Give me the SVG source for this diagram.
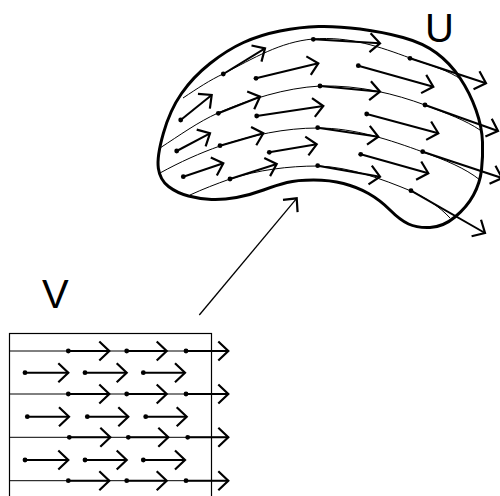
<svg xmlns="http://www.w3.org/2000/svg" width="500" height="496" viewBox="0 0 500 496">
<defs>
<marker id="ah" markerUnits="userSpaceOnUse" orient="auto" refX="0" refY="0" markerWidth="20" markerHeight="24" style="overflow:visible">
<path d="M-10,-9.5 L0,0 L-10,9.5" fill="none" stroke="#000" stroke-width="2.2" stroke-linejoin="miter"/>
</marker>
</defs>
<style>
.thin{fill:none;stroke:#000;stroke-width:1}
.vec{fill:none;stroke:#000;stroke-width:2;marker-end:url(#ah)}
.dot{fill:#000}
.outline{fill:none;stroke:#000;stroke-width:3}
.lbl{font-family:"Liberation Sans",Arial,sans-serif;font-size:40px;fill:#000}
</style>
<rect width="500" height="496" fill="#fff"/>

<g id="U">
<path class="outline" d="M163.35,133.35 Q170,110 181.5,93.5 Q193,77 210,63.5 Q227,50 243.5,42.5 Q260,35 280,31 Q300,27 318.5,26.5 Q337,26 360,29 Q383,32 403,37.5 Q423,43 436.5,53 Q450,63 460,78 Q470,93 476,110 Q482,127 482.5,142 Q483,157 481.5,170 Q480,183 473.5,195 Q467,207 455,217 Q443,227 430,227.5 Q417,228 408.5,224 Q400,220 390,210 Q380,200 368.5,193.5 Q357,187 343.5,183.5 Q330,180 313.5,180 Q297,180 287,182.5 Q277,185 263.5,190 Q250,195 236.5,197.5 Q223,200 211.5,199.5 Q200,199 188.5,196 Q177,193 168.5,186.5 Q160,180 158.35,168.35 Q156.7,156.7 163.35,133.35 Z"/>
<path class="thin" d="M183,98 C198,88 210,80 223,74 C254,58 280,42 313,39 C350,36 380,47 410,58 C432,66 448,70 462,80"/>
<path class="thin" d="M160,148 C180,135 198,122 218,113 C250,99 285,88 320,86 C360,85 395,94 425,105 C448,114 465,120 480,130"/>
<path class="thin" d="M160,173 C180,162 200,153 220,146 C252,135 285,128 318,128 C355,128 390,140 423,152 C445,160 465,168 480,180"/>
<path class="thin" d="M190,195 C203,189 216,184 230,179 C258,170 288,166 318,166 C350,167 382,179 411,191 C426,198 440,207 450,218"/>
<g>
<line class="vec" x1="223.3" y1="74" x2="265" y2="48.3"/>
<line class="vec" x1="313.3" y1="39.3" x2="380" y2="43.3"/>
<line class="vec" x1="410" y1="58.3" x2="486" y2="83.3"/>
<line class="vec" x1="218.3" y1="113.3" x2="260" y2="96.7"/>
<line class="vec" x1="320" y1="86" x2="380" y2="91.7"/>
<line class="vec" x1="425" y1="105" x2="498" y2="131"/>
<line class="vec" x1="220" y1="145.7" x2="263.3" y2="133.3"/>
<line class="vec" x1="317.7" y1="127.7" x2="378.3" y2="136.7"/>
<line class="vec" x1="422.7" y1="151.7" x2="502" y2="178"/>
<line class="vec" x1="230" y1="179" x2="276.7" y2="164"/>
<line class="vec" x1="317.7" y1="165.7" x2="380" y2="176.7"/>
<line class="vec" x1="411" y1="190.7" x2="485" y2="233"/>
<line class="vec" x1="180.7" y1="120" x2="211.7" y2="95"/>
<line class="vec" x1="256" y1="78.3" x2="318.3" y2="63.3"/>
<line class="vec" x1="358.3" y1="65.7" x2="433.3" y2="86.7"/>
<line class="vec" x1="176.7" y1="151" x2="210" y2="133.3"/>
<line class="vec" x1="256.7" y1="116" x2="323.3" y2="106"/>
<line class="vec" x1="366.7" y1="114" x2="438.3" y2="133.3"/>
<line class="vec" x1="183.3" y1="176.7" x2="223.3" y2="163.3"/>
<line class="vec" x1="269.3" y1="152.3" x2="316.7" y2="144.3"/>
<line class="vec" x1="360.7" y1="154.3" x2="428.3" y2="173.3"/>
</g>
<g>
<circle class="dot" cx="223.3" cy="74" r="2.4"/>
<circle class="dot" cx="313.3" cy="39.3" r="2.4"/>
<circle class="dot" cx="410" cy="58.3" r="2.4"/>
<circle class="dot" cx="218.3" cy="113.3" r="2.4"/>
<circle class="dot" cx="320" cy="86" r="2.4"/>
<circle class="dot" cx="425" cy="105" r="2.4"/>
<circle class="dot" cx="220" cy="145.7" r="2.4"/>
<circle class="dot" cx="317.7" cy="127.7" r="2.4"/>
<circle class="dot" cx="422.7" cy="151.7" r="2.4"/>
<circle class="dot" cx="230" cy="179" r="2.4"/>
<circle class="dot" cx="317.7" cy="165.7" r="2.4"/>
<circle class="dot" cx="411" cy="190.7" r="2.4"/>
<circle class="dot" cx="180.7" cy="120" r="2.4"/>
<circle class="dot" cx="256" cy="78.3" r="2.4"/>
<circle class="dot" cx="358.3" cy="65.7" r="2.4"/>
<circle class="dot" cx="176.7" cy="151" r="2.4"/>
<circle class="dot" cx="256.7" cy="116" r="2.4"/>
<circle class="dot" cx="366.7" cy="114" r="2.4"/>
<circle class="dot" cx="183.3" cy="176.7" r="2.4"/>
<circle class="dot" cx="269.3" cy="152.3" r="2.4"/>
<circle class="dot" cx="360.7" cy="154.3" r="2.4"/>
</g>
<text class="lbl" x="425" y="41.5">U</text>
</g>

<g id="V">
<rect x="9.5" y="333.5" width="202" height="200" fill="none" stroke="#000" stroke-width="1.2"/>
<line class="thin" x1="9.5" y1="351" x2="226" y2="351"/>
<line class="thin" x1="9.5" y1="394" x2="226" y2="394"/>
<line class="thin" x1="9.5" y1="437.3" x2="226" y2="437.3"/>
<line class="thin" x1="9.5" y1="480.7" x2="226" y2="480.7"/>
<g>
<line class="vec" x1="68.3" y1="351" x2="109.3" y2="351"/>
<line class="vec" x1="126.7" y1="351" x2="166.7" y2="351"/>
<line class="vec" x1="186" y1="351" x2="228.3" y2="351"/>
<line class="vec" x1="68.3" y1="394" x2="109.3" y2="394"/>
<line class="vec" x1="126.7" y1="394" x2="166.7" y2="394"/>
<line class="vec" x1="186" y1="394" x2="228.3" y2="394"/>
<line class="vec" x1="69.3" y1="437.3" x2="110.3" y2="437.3"/>
<line class="vec" x1="128.3" y1="437.3" x2="168.3" y2="437.3"/>
<line class="vec" x1="187.7" y1="437.3" x2="228.3" y2="437.3"/>
<line class="vec" x1="68.3" y1="480.7" x2="109.3" y2="480.7"/>
<line class="vec" x1="126.7" y1="480.7" x2="166.7" y2="480.7"/>
<line class="vec" x1="186" y1="480.7" x2="228.3" y2="480.7"/>
<line class="vec" x1="25" y1="372.7" x2="68.3" y2="372.7"/>
<line class="vec" x1="85" y1="372.7" x2="126.7" y2="372.7"/>
<line class="vec" x1="143.3" y1="372.7" x2="185" y2="372.7"/>
<line class="vec" x1="27.3" y1="416.7" x2="69" y2="416.7"/>
<line class="vec" x1="87.3" y1="416.7" x2="128.3" y2="416.7"/>
<line class="vec" x1="145.7" y1="416.7" x2="186.7" y2="416.7"/>
<line class="vec" x1="25" y1="460" x2="68.3" y2="460"/>
<line class="vec" x1="85" y1="460" x2="126.7" y2="460"/>
<line class="vec" x1="143.3" y1="460" x2="185" y2="460"/>
</g>
<g>
<circle class="dot" cx="68.3" cy="351" r="2.4"/>
<circle class="dot" cx="126.7" cy="351" r="2.4"/>
<circle class="dot" cx="186" cy="351" r="2.4"/>
<circle class="dot" cx="68.3" cy="394" r="2.4"/>
<circle class="dot" cx="126.7" cy="394" r="2.4"/>
<circle class="dot" cx="186" cy="394" r="2.4"/>
<circle class="dot" cx="69.3" cy="437.3" r="2.4"/>
<circle class="dot" cx="128.3" cy="437.3" r="2.4"/>
<circle class="dot" cx="187.7" cy="437.3" r="2.4"/>
<circle class="dot" cx="68.3" cy="480.7" r="2.4"/>
<circle class="dot" cx="126.7" cy="480.7" r="2.4"/>
<circle class="dot" cx="186" cy="480.7" r="2.4"/>
<circle class="dot" cx="25" cy="372.7" r="2.4"/>
<circle class="dot" cx="85" cy="372.7" r="2.4"/>
<circle class="dot" cx="143.3" cy="372.7" r="2.4"/>
<circle class="dot" cx="27.3" cy="416.7" r="2.4"/>
<circle class="dot" cx="87.3" cy="416.7" r="2.4"/>
<circle class="dot" cx="145.7" cy="416.7" r="2.4"/>
<circle class="dot" cx="25" cy="460" r="2.4"/>
<circle class="dot" cx="85" cy="460" r="2.4"/>
<circle class="dot" cx="143.3" cy="460" r="2.4"/>
</g>
<text class="lbl" x="42" y="307.5">V</text>
</g>

<g id="connectors">
<line x1="199.3" y1="315" x2="296.7" y2="198.3" stroke="#000" stroke-width="1.3" marker-end="url(#ah)"/>
</g>
</svg>
